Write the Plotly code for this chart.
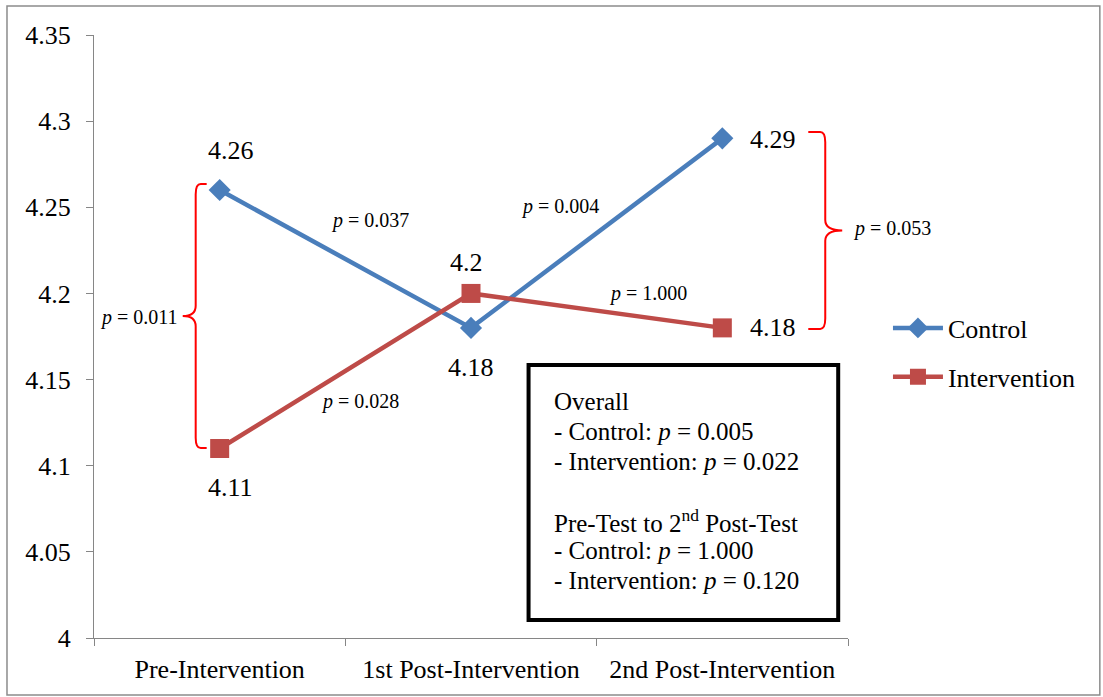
import plotly.graph_objects as go

categories = ["Pre-Intervention", "1st Post-Intervention", "2nd Post-Intervention"]
control = [4.26, 4.18, 4.29]
intervention = [4.11, 4.20, 4.18]
y_ticks = [4.0, 4.05, 4.1, 4.15, 4.2, 4.25, 4.3, 4.35]
y_tick_labels = ["4", "4.05", "4.1", "4.15", "4.2", "4.25", "4.3", "4.35"]
p_labels = ["p = 0.037", "p = 0.004", "p = 0.028", "p = 1.000", "p = 0.011", "p = 0.053"]
box_lines = ["Overall", "- Control: <i>p</i> = 0.005", "- Intervention: <i>p</i> = 0.022", "",
             "Pre-Test to 2<sup>nd</sup> Post-Test", "- Control: <i>p</i> = 1.000",
             "- Intervention: <i>p</i> = 0.120"]

FONT = "Liberation Serif"
BLUE = "#4A7EBB"
RED = "#BE4B48"
x = list(range(len(categories)))

fig = go.Figure()
fig.add_trace(go.Scatter(x=x, y=control, mode="lines+markers", name="Control", legendgroup="a",
                         line=dict(color=BLUE, width=4.5),
                         marker=dict(symbol="diamond", size=17, color=BLUE)))
fig.add_trace(go.Scatter(x=x, y=intervention, mode="lines+markers", name="Intervention", legendgroup="b",
                         line=dict(color=RED, width=4.5),
                         marker=dict(symbol="square", size=19, color=RED)))

ann = []
def fmt(v):
    return ("%.2f" % v).rstrip("0").rstrip(".")

big = dict(family=FONT, size=26, color="black")
ann.append(dict(x=x[0], y=control[0], text=fmt(control[0]), showarrow=False, xshift=11, yshift=40))
ann.append(dict(x=x[0], y=intervention[0], text=fmt(intervention[0]), showarrow=False, xshift=11, yshift=-39))
ann.append(dict(x=x[1], y=intervention[1], text=fmt(intervention[1]), showarrow=False, xshift=-5, yshift=31))
ann.append(dict(x=x[1], y=control[1], text=fmt(control[1]), showarrow=False, xshift=0, yshift=-40))
ann.append(dict(x=x[2], y=control[2], text=fmt(control[2]), showarrow=False, xanchor="left", xshift=26, yshift=-1))
ann.append(dict(x=x[2], y=intervention[2], text=fmt(intervention[2]), showarrow=False, xanchor="left", xshift=26, yshift=0))
for a in ann:
    a["font"] = big

def ptxt(s):
    return "<i>p</i>" + s[1:]
small = dict(family=FONT, size=20, color="black")
p_pos = [("x", 0.600, 4.2426, "center"), ("x", 1.356, 4.2502, "center"), ("x", 0.557, 4.137, "center"),
         ("x", 1.706, 4.2002, "center"), ("x", -0.159, 4.1863, "right"), ("paper", 1.004, 4.2374, "left")]
for lbl, (xr, px, py, anc) in zip(p_labels, p_pos):
    ann.append(dict(x=px, y=py, xref=xr, yref="y", text=ptxt(lbl), showarrow=False, xanchor=anc, font=small))

line_step = 0.01724
y0 = 4.137
for i, t in enumerate(box_lines):
    if not t:
        continue
    ann.append(dict(x=1.324, y=y0 - i * line_step, text=t, showarrow=False, xanchor="left",
                    yanchor="middle", align="left", font=dict(family=FONT, size=25, color="black")))

shapes = []
c = 0.006
lt, lb = control[0] + 0.0035, intervention[0] + 0.0003
lm = (lt + lb) / 2
xv, xh, xt = -0.0954, -0.0517, -0.147
shapes.append(dict(type="path", xref="x", yref="y",
    path=(f"M {xh},{lt} L {xv+0.02},{lt} Q {xv},{lt} {xv},{lt-c} L {xv},{lm+c} "
          f"Q {xv},{lm} {xt},{lm} Q {xv},{lm} {xv},{lm-c} L {xv},{lb+c} "
          f"Q {xv},{lb} {xv+0.02},{lb} L {xh},{lb}"),
    line=dict(color="#FF0000", width=2)))
rt, rb = control[2] + 0.0037, intervention[2] - 0.0006
rm = (rt + rb) / 2
xv, xh, xt = 2.4095, 2.342, 2.477
shapes.append(dict(type="path", xref="x", yref="y",
    path=(f"M {xh},{rt} L {xv-0.02},{rt} Q {xv},{rt} {xv},{rt-c} L {xv},{rm+c} "
          f"Q {xv},{rm} {xt},{rm} Q {xv},{rm} {xv},{rm-c} L {xv},{rb+c} "
          f"Q {xv},{rb} {xv-0.02},{rb} L {xh},{rb}"),
    line=dict(color="#FF0000", width=2)))
shapes.append(dict(type="rect", xref="x", yref="y", x0=1.229, x1=2.461, y0=4.0104, y1=4.1585,
                   line=dict(color="black", width=4), fillcolor="white", layer="below"))
shapes.append(dict(type="rect", xref="paper", yref="paper", x0=-0.1154, x1=1.334, y0=-0.0945, y1=1.048,
                   line=dict(color="#8C8C8C", width=1.5)))

fig.update_layout(
    width=1103, height=697,
    margin=dict(l=94, r=255, t=35, b=59),
    paper_bgcolor="white", plot_bgcolor="white",
    font=dict(family=FONT, size=25, color="black"),
    annotations=ann, shapes=shapes,
    legend=dict(x=1.053, y=0.553, xanchor="left", yanchor="top", traceorder="grouped",
                font=dict(family=FONT, size=26), tracegroupgap=12, itemwidth=50,
                bgcolor="rgba(0,0,0,0)"),
)
fig.update_xaxes(range=[-0.5, 2.5], tickvals=x, ticktext=categories, ticks="",
                 showline=True, linecolor="#868686", linewidth=1.3, showgrid=False, zeroline=False,
                 tickfont=dict(family=FONT, size=26), ticklabelstandoff=8,
                 minor=dict(ticks="outside", tick0=-0.5, dtick=1, ticklen=7, tickcolor="#868686", showgrid=False))
fig.update_yaxes(range=[4.0, 4.35], tickvals=y_ticks, ticktext=y_tick_labels, ticks="outside",
                 ticklen=7, tickcolor="#868686", showline=True, linecolor="#868686", linewidth=1.3,
                 showgrid=False, zeroline=False, tickfont=dict(family=FONT, size=26), ticklabelstandoff=10)

fig.write_html("out.html", config={"displayModeBar": False},
               post_script="document.body.style.margin='0px';")
